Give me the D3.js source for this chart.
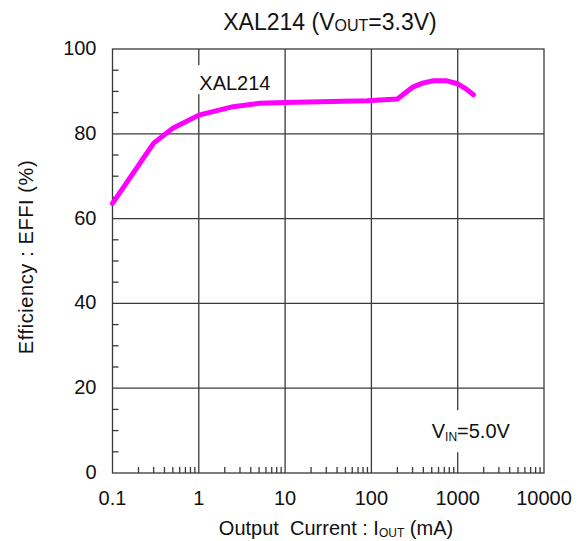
<!DOCTYPE html>
<html>
<head>
<meta charset="utf-8">
<script src="https://cdn.jsdelivr.net/npm/d3@7"></script>
<style>
  html, body { margin: 0; padding: 0; background: #fff; }
  svg text { font-family: "Liberation Sans", Arial, sans-serif; fill: #111; }
</style>
</head>
<body>
<svg id="chart" width="580" height="541"></svg>
<script>
// ---- data ----
const currentMA = [0.1, 0.3, 0.5, 1, 2.5, 5, 10, 89, 200, 300, 400, 525, 750, 1000, 1250, 1520];
const efficiency = [63.6, 77.8, 81.3, 84.4, 86.4, 87.2, 87.4, 87.8, 88.2, 91.0, 92.0, 92.5, 92.5, 91.8, 90.6, 89.2];
const xTickValues = [0.1, 1, 10, 100, 1000, 10000];
const xTickLabels = ["0.1", "1", "10", "100", "1000", "10000"];
const yTickValues = [0, 20, 40, 60, 80, 100];
const yTickLabels = ["0", "20", "40", "60", "80", "100"];
const seriesName = "XAL214";

// ---- layout ----
const svg = d3.select("#chart");
const M = { left: 112.5, right: 544, top: 49, bottom: 473 };
const x = d3.scaleLog().domain([0.1, 10000]).range([M.left, M.right]);
const y = d3.scaleLinear().domain([0, 100]).range([M.bottom, M.top]);
const gridColor = "#3a3a3a";

// grid
const g = svg.append("g");
g.selectAll("line.vg").data(xTickValues.slice(1, -1)).enter().append("line")
  .attr("x1", d => x(d)).attr("x2", d => x(d))
  .attr("y1", M.top).attr("y2", M.bottom)
  .attr("stroke", gridColor).attr("stroke-width", 1.3);
g.selectAll("line.hg").data(yTickValues.slice(1, -1)).enter().append("line")
  .attr("x1", M.left).attr("x2", M.right)
  .attr("y1", d => y(d)).attr("y2", d => y(d))
  .attr("stroke", gridColor).attr("stroke-width", 1.3);

// minor ticks x (inside, upward)
const minorX = [];
for (let dec = 0.1; dec < 10000; dec *= 10) {
  for (let k = 2; k <= 9; k++) minorX.push(dec * k);
}
g.selectAll("line.mx").data(minorX).enter().append("line")
  .attr("x1", d => x(d)).attr("x2", d => x(d))
  .attr("y1", M.bottom).attr("y2", M.bottom - 6)
  .attr("stroke", gridColor).attr("stroke-width", 1.3);

// minor ticks y (inside, rightward)
const minorY = d3.range(5, 100, 5).filter(v => v % 20 !== 0);
g.selectAll("line.my").data(minorY).enter().append("line")
  .attr("x1", M.left).attr("x2", M.left + 6)
  .attr("y1", d => y(d)).attr("y2", d => y(d))
  .attr("stroke", gridColor).attr("stroke-width", 1.3);

// annotation labels with white background (they break the grid lines)
function boxedLabel(px, py, build, padX, padTop, padBot) {
  const grp = svg.append("g");
  const rect = grp.append("rect").attr("fill", "#fff");
  const t = grp.append("text").attr("x", px).attr("y", py).attr("font-size", 20);
  build(t);
  const b = t.node().getBBox();
  rect.attr("x", b.x - padX).attr("y", b.y - padTop)
      .attr("width", b.width + 2 * padX).attr("height", b.height + padTop + padBot);
}
boxedLabel(x(1) + 0.5, y(90.3), t => t.text(seriesName), 2, 7, 0);
boxedLabel(x(500), y(8.2), t => {
  t.append("tspan").text("V");
  t.append("tspan").attr("font-size", 12).attr("dy", 3).text("IN");
  t.append("tspan").attr("dy", -3).text("=5.0V");
}, 2, 10, 8);

// frame
svg.append("rect").attr("x", M.left).attr("y", M.top)
  .attr("width", M.right - M.left).attr("height", M.bottom - M.top)
  .attr("fill", "none").attr("stroke", gridColor).attr("stroke-width", 1.3);

// curve
const line = d3.line().x((d, i) => x(currentMA[i])).y(d => y(d)).curve(d3.curveLinear);
svg.append("path").datum(efficiency)
  .attr("d", line)
  .attr("fill", "none").attr("stroke", "#ff00ff").attr("stroke-width", 5)
  .attr("stroke-linejoin", "round").attr("stroke-linecap", "round");

// axis tick labels
svg.selectAll("text.xt").data(xTickValues).enter().append("text")
  .attr("x", d => x(d)).attr("y", 505).attr("text-anchor", "middle")
  .attr("font-size", 20).text((d, i) => xTickLabels[i]);
svg.selectAll("text.yt").data(yTickValues).enter().append("text")
  .attr("x", 96.5).attr("y", d => y(d) + 6).attr("text-anchor", "end")
  .attr("font-size", 20).text((d, i) => yTickLabels[i]);

// title
const title = svg.append("text").attr("x", 330).attr("y", 30)
  .attr("text-anchor", "middle").attr("font-size", 23);
title.append("tspan").text("XAL214 (V");
title.append("tspan").attr("font-size", 16).attr("dy", 1).text("OUT");
title.append("tspan").attr("dy", -1).text("=3.3V)");

// x axis title
const xl = svg.append("text").attr("x", 336).attr("y", 535)
  .attr("text-anchor", "middle").attr("font-size", 20)
  .style("white-space", "pre");
xl.append("tspan").text("Output  Current : I");
xl.append("tspan").attr("font-size", 12).attr("dy", 2).text("OUT");
xl.append("tspan").attr("dy", -2).text(" (mA)");

// y axis title
svg.append("text")
  .attr("transform", "translate(33,257) rotate(-90)")
  .attr("text-anchor", "middle").attr("font-size", 20)
  .style("letter-spacing", "0.6px")
  .text("Efficiency : EFFI (%)");
</script>
</body>
</html>
